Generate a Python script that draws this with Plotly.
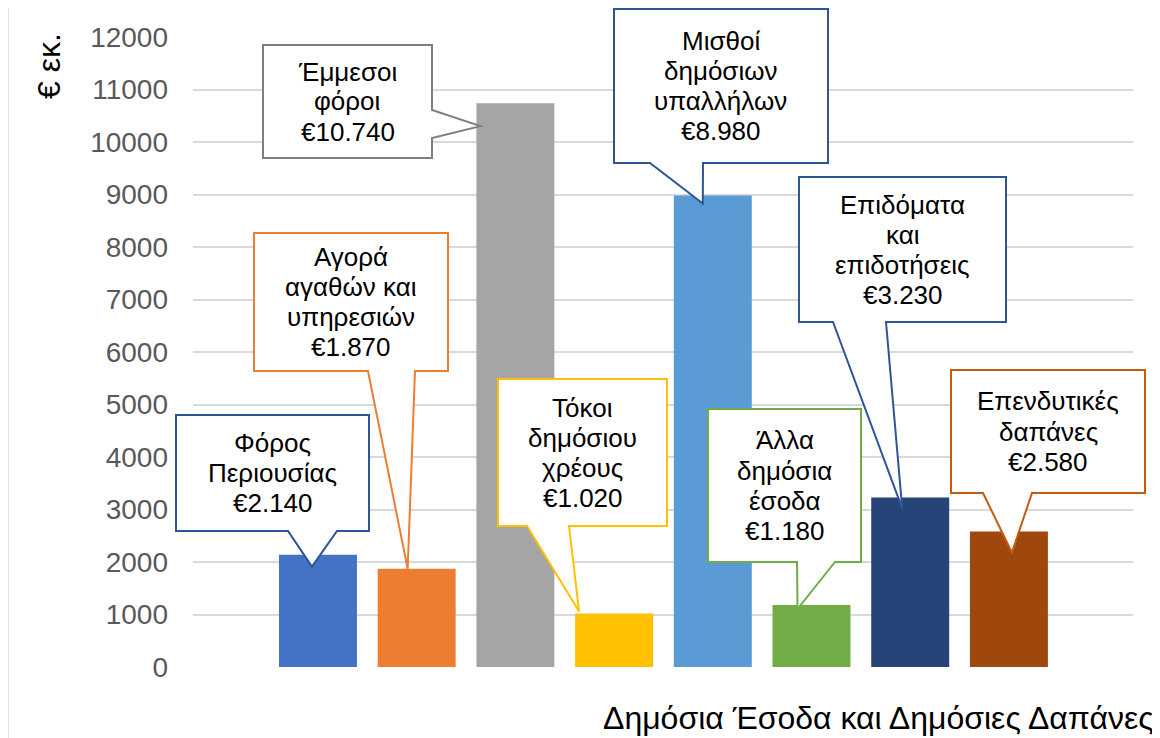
import plotly.graph_objects as go

# ---------------- data ----------------
categories = ["Φόρος Περιουσίας", "Αγορά αγαθών και υπηρεσιών", "Έμμεσοι φόροι",
              "Τόκοι δημόσιου χρέους", "Μισθοί δημόσιων υπαλλήλων", "Άλλα δημόσια έσοδα",
              "Επιδόματα και επιδοτήσεις", "Επενδυτικές δαπάνες"]
label_lines = [["Φόρος", "Περιουσίας"], ["Αγορά", "αγαθών και", "υπηρεσιών"], ["Έμμεσοι", "φόροι"],
               ["Τόκοι", "δημόσιου", "χρέους"], ["Μισθοί", "δημόσιων", "υπαλλήλων"],
               ["Άλλα", "δημόσια", "έσοδα"], ["Επιδόματα", "και", "επιδοτήσεις"],
               ["Επενδυτικές", "δαπάνες"]]
values = [2140, 1870, 10740, 1020, 8980, 1180, 3230, 2580]
y_ticks = list(range(0, 12001, 1000))
x_title = "Δημόσια Έσοδα και Δημόσιες Δαπάνες"
y_title = "€ εκ."

# ---------------- styles ----------------
bar_colors = ["#4472C4", "#ED7D31", "#A5A5A5", "#FFC000", "#5B9BD5", "#70AD47", "#264478", "#9E480E"]
box_colors = ["#2F5597", "#ED7D31", "#7F7F7F", "#FFC000", "#2F5597", "#70AD47", "#2F5597", "#C55A11"]

W, H = 1160, 738
OFF = 8  # page body margin
PL, PR, PT, PB = 193, 1133, 37, 667
X0, X1 = -1.266, 8.257
Y0, Y1 = 0, 12000
FONT = "Liberation Sans, Arial, sans-serif"
LINE_PX = 30

# callout boxes in pixels: (left, right, top, bottom), pointer side and base, tip offset from bar top-centre
callouts = [
    dict(box=(176, 369, 415, 531), side="bottom", base=(288, 337), tip=(-6, 12)),
    dict(box=(254, 448, 233, 371), side="bottom", base=(368, 415), tip=(-9, 0)),
    dict(box=(263, 432, 45, 158), side="right", base=(110, 138), tip=(-35, 23)),
    dict(box=(498, 667, 379, 526), side="bottom", base=(527, 569), tip=(-35, -2)),
    dict(box=(614, 828, 9, 163), side="bottom", base=(650, 703), tip=(-10, 8)),
    dict(box=(708, 861, 409, 562), side="bottom", base=(797, 835), tip=(-14, 4)),
    dict(box=(799, 1006, 177, 322), side="bottom", base=(833, 886), tip=(-8, 11)),
    dict(box=(951, 1145, 370, 493), side="bottom", base=(983, 1032), tip=(3, 21)),
]


def px_x(px):
    return (px - PL) / (PR - PL)


def px_y(py):
    return (PB - py) / (PB - PT)


def dx_paper(x):
    return (x - X0) / (X1 - X0)


def dy_paper(y):
    return (y - Y0) / (Y1 - Y0)


fig = go.Figure()
fig.add_trace(go.Bar(
    x=list(range(len(categories))), y=values, width=0.79,
    marker=dict(color=bar_colors, line=dict(width=0)),
    hovertext=categories, hoverinfo="text+y", showlegend=False,
))

shapes = []
annotations = []
for i, (c, lab, v) in enumerate(zip(callouts, label_lines, values)):
    l, r, t, b = c["box"]
    L, R, T, B = px_x(l), px_x(r), px_y(t), px_y(b)
    tx = dx_paper(i) + c["tip"][0] / (PR - PL)
    ty = dy_paper(v) - c["tip"][1] / (PB - PT)
    if c["side"] == "bottom":
        b1, b2 = px_x(c["base"][0]), px_x(c["base"][1])
        path = (f"M{L},{T} L{R},{T} L{R},{B} L{b2},{B} L{tx},{ty} "
                f"L{b1},{B} L{L},{B} Z")
    else:
        y1, y2 = px_y(c["base"][0]), px_y(c["base"][1])
        path = (f"M{L},{T} L{R},{T} L{R},{y1} L{tx},{ty} L{R},{y2} "
                f"L{R},{B} L{L},{B} Z")
    shapes.append(dict(type="path", path=path, xref="paper", yref="paper",
                       fillcolor="white", line=dict(color=box_colors[i], width=2),
                       layer="above"))
    lines = lab + ["€" + f"{v:,}".replace(",", ".")]
    n = len(lines)
    cy = (t + b) / 2
    for k, line in enumerate(lines):
        ly = cy + (k - (n - 1) / 2) * LINE_PX
        annotations.append(dict(text=line, x=(L + R) / 2, y=px_y(ly), xref="paper", yref="paper",
                                xanchor="center", yanchor="middle", showarrow=False,
                                font=dict(family=FONT, size=26, color="#000000")))

# outer chart border
shapes.insert(0, dict(type="rect", xref="paper", yref="paper",
                      x0=px_x(8), x1=px_x(1170), y0=px_y(748), y1=px_y(6),
                      line=dict(color="#D9D9D9", width=1.5), fillcolor="rgba(0,0,0,0)",
                      layer="below"))

annotations.append(dict(text=x_title, x=px_x(1156), y=px_y(718), xref="paper", yref="paper",
                        xanchor="right", yanchor="middle", showarrow=False,
                        font=dict(family=FONT, size=32, color="#000000")))
annotations.append(dict(text=y_title, x=px_x(49), y=px_y(66), xref="paper", yref="paper",
                        xanchor="center", yanchor="middle", showarrow=False, textangle=-90,
                        font=dict(family=FONT, size=32, color="#000000")))

fig.update_layout(
    width=W - OFF, height=H - OFF,
    margin=dict(l=PL - OFF, r=W - PR, t=PT - OFF, b=H - PB, autoexpand=False),
    paper_bgcolor="white", plot_bgcolor="white",
    shapes=shapes, annotations=annotations,
    xaxis=dict(range=[X0, X1], showticklabels=False, showgrid=False, zeroline=False,
               showline=False, fixedrange=True),
    yaxis=dict(range=[Y0, Y1], tickvals=y_ticks, ticktext=[str(t) for t in y_ticks],
               showgrid=True, gridcolor="#D9D9D9", gridwidth=1.5, zeroline=False,
               showline=False, ticklabelstandoff=24,
               tickfont=dict(family=FONT, size=28, color="#595959")),
    font=dict(family=FONT),
    bargap=0.21,
)

fig.write_html("out.html")
